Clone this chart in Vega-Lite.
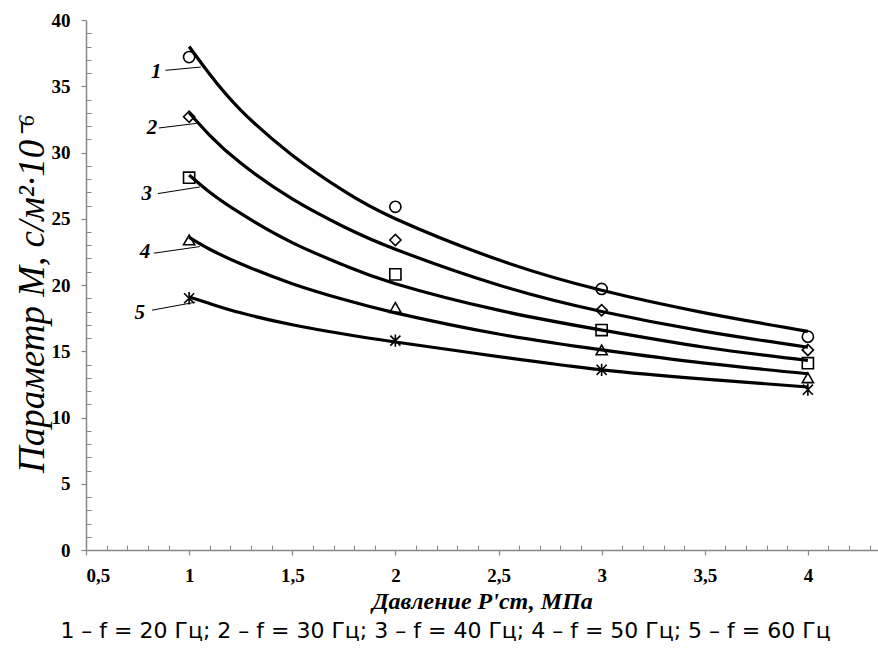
{
  "$schema": "https://vega.github.io/schema/vega-lite/v6.json",
  "autosize": {"type": "none"},
  "width": 792,
  "height": 530,
  "padding": {"left": 86, "top": 20, "right": 0, "bottom": 98},
  "background": "white",
  "title": {
    "text": "1 – f = 20 Гц; 2 – f  = 30 Гц; 3 – f = 40 Гц; 4 – f = 50 Гц; 5 – f = 60 Гц",
    "orient": "bottom",
    "anchor": "middle",
    "frame": "bounds",
    "font": "DejaVu Sans",
    "fontSize": 22,
    "fontWeight": "normal",
    "color": "black",
    "offset": 8
  },
  "datasets": {
    "curves": [
      {"s": "1", "x": 1.0, "y": 38.0}, {"s": "1", "x": 1.1, "y": 35.9}, {"s": "1", "x": 1.25, "y": 33.2}, {"s": "1", "x": 1.5, "y": 29.8}, {"s": "1", "x": 1.75, "y": 27.1}, {"s": "1", "x": 2.0, "y": 25.0}, {"s": "1", "x": 2.5, "y": 21.9}, {"s": "1", "x": 3.0, "y": 19.6}, {"s": "1", "x": 3.5, "y": 17.9}, {"s": "1", "x": 4.0, "y": 16.5},
      {"s": "2", "x": 1.0, "y": 33.0}, {"s": "2", "x": 1.1, "y": 31.3}, {"s": "2", "x": 1.25, "y": 29.2}, {"s": "2", "x": 1.5, "y": 26.5}, {"s": "2", "x": 1.75, "y": 24.4}, {"s": "2", "x": 2.0, "y": 22.7}, {"s": "2", "x": 2.5, "y": 20.0}, {"s": "2", "x": 3.0, "y": 18.0}, {"s": "2", "x": 3.5, "y": 16.5}, {"s": "2", "x": 4.0, "y": 15.3},
      {"s": "3", "x": 1.0, "y": 28.3}, {"s": "3", "x": 1.1, "y": 27.0}, {"s": "3", "x": 1.25, "y": 25.4}, {"s": "3", "x": 1.5, "y": 23.2}, {"s": "3", "x": 1.75, "y": 21.5}, {"s": "3", "x": 2.0, "y": 20.1}, {"s": "3", "x": 2.5, "y": 18.1}, {"s": "3", "x": 3.0, "y": 16.6}, {"s": "3", "x": 3.5, "y": 15.3}, {"s": "3", "x": 4.0, "y": 14.3},
      {"s": "4", "x": 1.0, "y": 23.6}, {"s": "4", "x": 1.1, "y": 22.7}, {"s": "4", "x": 1.25, "y": 21.6}, {"s": "4", "x": 1.5, "y": 20.1}, {"s": "4", "x": 1.75, "y": 18.9}, {"s": "4", "x": 2.0, "y": 17.9}, {"s": "4", "x": 2.5, "y": 16.3}, {"s": "4", "x": 3.0, "y": 15.1}, {"s": "4", "x": 3.5, "y": 14.1}, {"s": "4", "x": 4.0, "y": 13.3},
      {"s": "5", "x": 1.0, "y": 19.1}, {"s": "5", "x": 1.1, "y": 18.6}, {"s": "5", "x": 1.25, "y": 17.9}, {"s": "5", "x": 1.5, "y": 17.0}, {"s": "5", "x": 1.75, "y": 16.3}, {"s": "5", "x": 2.0, "y": 15.7}, {"s": "5", "x": 2.5, "y": 14.6}, {"s": "5", "x": 3.0, "y": 13.6}, {"s": "5", "x": 3.5, "y": 12.9}, {"s": "5", "x": 4.0, "y": 12.3}
    ],
    "points": [
      {"s": "1", "x": 1, "y": 37.2}, {"s": "1", "x": 2, "y": 25.9}, {"s": "1", "x": 3, "y": 19.7}, {"s": "1", "x": 4, "y": 16.1},
      {"s": "2", "x": 1, "y": 32.7}, {"s": "2", "x": 2, "y": 23.4}, {"s": "2", "x": 3, "y": 18.1}, {"s": "2", "x": 4, "y": 15.1},
      {"s": "3", "x": 1, "y": 28.1}, {"s": "3", "x": 2, "y": 20.8}, {"s": "3", "x": 3, "y": 16.6}, {"s": "3", "x": 4, "y": 14.1},
      {"s": "4", "x": 1, "y": 23.4}, {"s": "4", "x": 2, "y": 18.3}, {"s": "4", "x": 3, "y": 15.1}, {"s": "4", "x": 4, "y": 13.0},
      {"s": "5", "x": 1, "y": 19.0}, {"s": "5", "x": 2, "y": 15.8}, {"s": "5", "x": 3, "y": 13.6}, {"s": "5", "x": 4, "y": 12.1}
    ],
    "labels": [
      {"s": "1", "lx": 0.84, "ly": 36.1, "x1": 0.885, "y1": 36.2, "x2": 1.057, "y2": 36.45},
      {"s": "2", "lx": 0.82, "ly": 31.85, "x1": 0.853, "y1": 31.85, "x2": 1.037, "y2": 32.2},
      {"s": "3", "lx": 0.795, "ly": 26.9, "x1": 0.849, "y1": 26.9, "x2": 1.052, "y2": 27.4},
      {"s": "4", "lx": 0.786, "ly": 22.5, "x1": 0.829, "y1": 22.4, "x2": 1.052, "y2": 22.9},
      {"s": "5", "lx": 0.76, "ly": 17.9, "x1": 0.82, "y1": 18.1, "x2": 1.03, "y2": 18.7}
    ]
  },
  "resolve": {"axis": {"x": "independent", "y": "independent"}},
  "layer": [
    {
      "data": {"name": "curves"},
      "mark": {"type": "line", "interpolate": "natural", "color": "black", "strokeWidth": 3.2},
      "encoding": {
        "x": {
          "field": "x", "type": "quantitative",
          "scale": {"domain": [0.5, 4.34], "nice": false, "zero": false},
          "axis": {
            "orient": "bottom",
            "values": [0.5, 1, 1.5, 2, 2.5, 3, 3.5, 4],
            "labelExpr": "replace(toString(datum.value), '.', ',')",
            "title": "Давление P'ст, МПа",
            "titleFont": "Liberation Serif", "titleFontSize": 24, "titleFontStyle": "italic", "titleFontWeight": "bold", "titleColor": "black",
            "titlePadding": 4,
            "labelFont": "Liberation Serif", "labelFontSize": 19, "labelFontWeight": "bold", "labelColor": "black",
            "labelPadding": 11,
            "domainColor": "#888888", "domainWidth": 1.5,
            "tickColor": "#888888", "tickSize": 5, "tickWidth": 1.2,
            "grid": false
          }
        },
        "y": {
          "field": "y", "type": "quantitative",
          "scale": {"domain": [0, 40], "nice": false},
          "axis": {
            "orient": "left",
            "values": [0, 5, 10, 15, 20, 25, 30, 35, 40],
            "title": "Параметр М, с/м²·10⁻⁶",
            "titleFont": "Liberation Serif", "titleFontSize": 37, "titleFontStyle": "italic", "titleFontWeight": "normal", "titleColor": "black",
            "titlePadding": 0,
            "titleY": 273,
            "labelFont": "Liberation Serif", "labelFontSize": 19, "labelFontWeight": "bold", "labelColor": "black",
            "labelPadding": 11,
            "domainColor": "#888888", "domainWidth": 1.5,
            "tickColor": "#888888", "tickSize": 5, "tickWidth": 1.2,
            "grid": false
          }
        },
        "detail": {"field": "s"}
      }
    },
    {
      "data": {"name": "points"},
      "mark": {"type": "point", "filled": false, "color": "black", "strokeWidth": 1.6, "size": 125, "opacity": 1},
      "encoding": {
        "x": {
          "field": "x", "type": "quantitative",
          "axis": {
            "orient": "bottom",
            "values": [0.6, 0.7, 0.8, 0.9, 1.1, 1.2, 1.3, 1.4, 1.6, 1.7, 1.8, 1.9, 2.1, 2.2, 2.3, 2.4, 2.6, 2.7, 2.8, 2.9, 3.1, 3.2, 3.3, 3.4, 3.6, 3.7, 3.8, 3.9, 4.1, 4.2, 4.3],
            "labels": false, "title": null, "domain": false, "grid": false,
            "tickColor": "#888888", "tickSize": -5, "tickWidth": 1
          }
        },
        "y": {
          "field": "y", "type": "quantitative",
          "axis": {
            "orient": "left",
            "values": [1, 2, 3, 4, 6, 7, 8, 9, 11, 12, 13, 14, 16, 17, 18, 19, 21, 22, 23, 24, 26, 27, 28, 29, 31, 32, 33, 34, 36, 37, 38, 39],
            "labels": false, "title": null, "domain": false, "grid": false,
            "tickColor": "#888888", "tickSize": -5, "tickWidth": 1
          }
        },
        "shape": {
          "field": "s", "type": "nominal", "legend": null,
          "scale": {
            "domain": ["1", "2", "3", "4", "5"],
            "range": ["circle", "diamond", "square", "triangle-up", "M0,-1.1L0,1.1M-0.9,-0.9L0.9,0.9M-0.9,0.9L0.9,-0.9"]
          }
        }
      }
    },
    {
      "data": {"name": "labels"},
      "mark": {"type": "rule", "color": "black", "strokeWidth": 1},
      "encoding": {
        "x": {"field": "x1", "type": "quantitative", "axis": null},
        "y": {"field": "y1", "type": "quantitative", "axis": null},
        "x2": {"field": "x2"},
        "y2": {"field": "y2"}
      }
    },
    {
      "data": {"name": "labels"},
      "mark": {"type": "text", "font": "Liberation Serif", "fontSize": 21, "fontStyle": "italic", "fontWeight": "bold", "color": "black", "align": "center", "baseline": "middle"},
      "encoding": {
        "x": {"field": "lx", "type": "quantitative", "axis": null},
        "y": {"field": "ly", "type": "quantitative", "axis": null},
        "text": {"field": "s"}
      }
    }
  ],
  "config": {"view": {"stroke": null}}
}
